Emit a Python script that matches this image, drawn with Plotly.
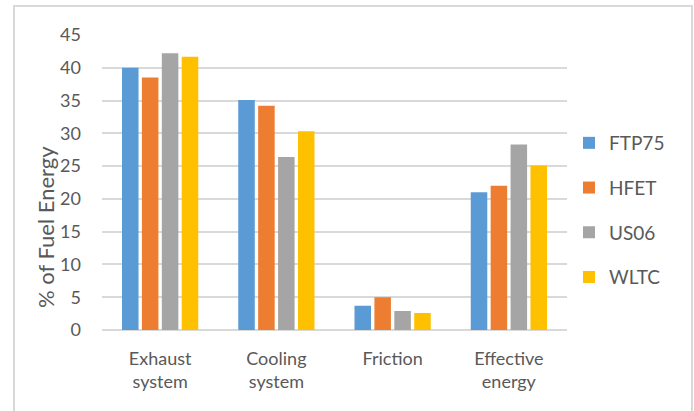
import plotly.graph_objects as go

# Share of fuel energy by destination, per driving cycle
categories = ["Exhaust<br>system", "Cooling<br>system", "Friction", "Effective<br>energy"]
ftp75 = [40.0, 35.1, 3.7, 21.0]
hfet = [38.5, 34.2, 5.0, 22.0]
us06 = [42.2, 26.4, 2.9, 28.3]
wltc = [41.7, 30.3, 2.6, 25.1]
series_names = ["FTP75", "HFET", "US06", "WLTC"]
series_values = [ftp75, hfet, us06, wltc]
colors = ["#5B9BD5", "#ED7D31", "#A5A5A5", "#FFC000"]
y_ticks = [0, 5, 10, 15, 20, 25, 30, 35, 40, 45]

W, H = 694, 411
L, R, T, B = 102, 127, 35, 81
pw, ph = W - L - R, H - T - B


def px_x(x):
    return (x - L) / pw


def px_y(y):
    return (H - B - y) / ph


FONT = "Lato, 'Open Sans', sans-serif"
GRAY_TXT = "#595959"

fig = go.Figure()
for name, vals, col in zip(series_names, series_values, colors):
    fig.add_trace(go.Bar(
        x=categories, y=vals, name=name,
        marker=dict(color=col, line=dict(width=0)),
        legendgroup=name,
    ))

fig.update_layout(
    width=W, height=H,
    margin=dict(l=L, r=R, t=T, b=B, pad=0),
    paper_bgcolor="white", plot_bgcolor="white",
    barmode="group", bargap=0.315, bargroupgap=0.17,
    font=dict(family=FONT, color=GRAY_TXT),
    legend=dict(
        x=px_x(569), xanchor="left",
        y=px_y(210), yanchor="middle",
        font=dict(size=19, color=GRAY_TXT, family=FONT),
        tracegroupgap=17, itemwidth=30,
        bgcolor="rgba(0,0,0,0)",
    ),
    showlegend=True,
)

fig.update_xaxes(
    showgrid=False, zeroline=False, showline=False,
    ticks="", tickfont=dict(size=18, color=GRAY_TXT, family=FONT),
    ticklabelstandoff=16,
)
fig.update_yaxes(
    range=[0, 45], tickvals=y_ticks,
    showgrid=True, gridcolor="#D9D9D9", gridwidth=1.5,
    zeroline=True, zerolinecolor="#D9D9D9", zerolinewidth=2,
    showline=False, ticks="",
    tickfont=dict(size=18, color=GRAY_TXT, family=FONT),
    ticklabelstandoff=20,
)

# Axis title, rotated
fig.add_annotation(
    text="% of Fuel Energy", xref="paper", yref="paper",
    x=px_x(45), y=px_y(227), xanchor="center", yanchor="middle",
    textangle=-90, showarrow=False,
    font=dict(size=22, color=GRAY_TXT, family=FONT),
)

# Chart area frame
fig.add_shape(
    type="rect", xref="paper", yref="paper",
    x0=px_x(14), x1=px_x(692), y0=px_y(420), y1=px_y(6),
    line=dict(color="#D9D9D9", width=2), fillcolor="rgba(0,0,0,0)",
    layer="below",
)

fig.write_html("out.html")
